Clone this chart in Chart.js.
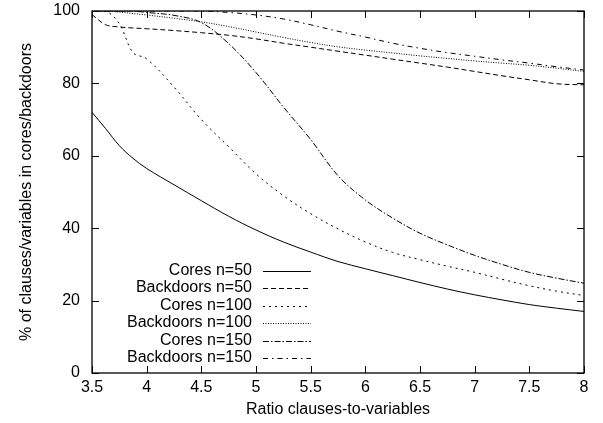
<!DOCTYPE html>
<html>
<head>
<meta charset="utf-8">
<script src="https://cdn.jsdelivr.net/npm/chart.js@4/dist/chart.umd.min.js"></script>
<style>
  html, body { margin: 0; padding: 0; background: #fff; }
  #wrap { width: 603px; height: 423px; }
</style>
</head>
<body>
<div id="wrap"><canvas id="chart" width="603" height="423"></canvas></div>
<script>
// x positions (ratio clauses-to-variables)
const ratios = [3.5, 3.625, 3.75, 3.875, 4, 4.25, 4.5, 4.75, 5, 5.25, 5.5, 5.75, 6, 6.25, 6.5, 6.75, 7, 7.25, 7.5, 7.75, 8];

const cores50 = [72, 67.5, 62.8, 59.3, 56.5, 52, 47.6, 43.3, 39.5, 36.2, 33.4, 30.8, 28.8, 26.9, 25, 23.2, 21.6, 20.2, 18.9, 17.9, 17];
const backdoors50 = [99, 96.2, 95.6, 95.3, 95.1, 94.6, 94, 93.3, 92.3, 91.1, 90, 88.9, 87.8, 86.7, 85.6, 84.5, 83.3, 82.1, 81, 79.9, 79.6];
const cores100 = [100, 100, 96.5, 88.5, 86.8, 79, 70, 62.5, 55, 49, 44, 39.8, 36.2, 33.3, 31.3, 29.5, 27.8, 25.9, 24.1, 22.6, 21.4];
const backdoors100 = [100, 100, 99.7, 99.3, 98.9, 98, 97, 95.7, 94.2, 92.7, 91.3, 90.1, 89.2, 88.4, 87.6, 86.9, 86.2, 85.6, 85, 84.2, 83.3];
const cores150 = [100, 100, 100, 100, 99.6, 98.8, 96.8, 91, 83, 73.5, 64.5, 54.5, 47.8, 42.8, 38.6, 35.4, 32.5, 30, 27.8, 26.2, 24.8];
const backdoors150 = [100, 100, 100, 100, 100, 100, 100, 99.6, 98.9, 97.8, 96.2, 94.4, 92.8, 91.1, 89.7, 88.5, 87.5, 86.5, 85.6, 84.6, 83.7];

const seriesNames = ["Cores n=50", "Backdoors n=50", "Cores n=100", "Backdoors n=100", "Cores n=150", "Backdoors n=150"];
const seriesValues = [cores50, backdoors50, cores100, backdoors100, cores150, backdoors150];
const dashes = [[], [5, 3], [2, 4], [1, 1.5], [6, 2, 1.5, 2], [5, 4, 1.5, 4]];

Chart.defaults.font.family = "'Liberation Sans', Arial, sans-serif";
Chart.defaults.font.size = 16;
Chart.defaults.color = "#000";

function toPoints(vals) {
  return vals.map((v, i) => ({ x: ratios[i], y: v }));
}

// gnuplot style frame with inward ticks on all four sides
const framePlugin = {
  id: "frame",
  afterDatasetsDraw(chart) {
    const c = chart.ctx, a = chart.chartArea;
    const xs = chart.scales.x, ys = chart.scales.y;
    c.save();
    c.strokeStyle = "#000";
    c.lineWidth = 1.3;
    c.setLineDash([]);
    c.strokeRect(a.left, a.top, a.right - a.left, a.bottom - a.top);
    c.lineWidth = 1;
    c.beginPath();
    xs.ticks.forEach((t) => {
      const px = Math.round(xs.getPixelForValue(t.value)) + 0.5;
      c.moveTo(px, a.bottom); c.lineTo(px, a.bottom - 7);
      c.moveTo(px, a.top); c.lineTo(px, a.top + 7);
    });
    ys.ticks.forEach((t) => {
      const py = Math.round(ys.getPixelForValue(t.value)) + 0.5;
      c.moveTo(a.left, py); c.lineTo(a.left + 7, py);
      c.moveTo(a.right, py); c.lineTo(a.right - 7, py);
    });
    c.stroke();
    c.restore();
  },
  afterDraw(chart) {
    // key: text right aligned, line sample on its right
    const c = chart.ctx, a = chart.chartArea;
    c.save();
    c.font = "16px 'Liberation Sans', Arial, sans-serif";
    c.fillStyle = "#000";
    c.textAlign = "right";
    c.textBaseline = "middle";
    chart.data.datasets.forEach((ds, i) => {
      const y = a.bottom - 102.5 + i * 17.5;
      c.fillText(ds.label, a.left + 160, y);
      c.strokeStyle = "#000";
      c.lineWidth = 1;
      c.setLineDash(ds.borderDash);
      c.beginPath();
      c.moveTo(a.left + 171, Math.round(y) + 0.5);
      c.lineTo(a.left + 219, Math.round(y) + 0.5);
      c.stroke();
    });
    c.restore();
  }
};

new Chart(document.getElementById("chart").getContext("2d"), {
  type: "line",
  data: {
    datasets: seriesNames.map((name, i) => ({
      label: name,
      data: toPoints(seriesValues[i]),
      borderColor: "#000",
      backgroundColor: "#000",
      borderWidth: 1,
      borderDash: dashes[i],
      pointRadius: 0,
      fill: false,
      tension: 0.35
    }))
  },
  options: {
    responsive: false,
    animation: false,
    layout: { padding: { top: 11, right: 19, left: 0, bottom: 0 } },
    plugins: {
      legend: { display: false },
      tooltip: { enabled: false }
    },
    scales: {
      x: {
        type: "linear",
        min: 3.5,
        max: 8,
        grid: { display: false, drawTicks: false },
        border: { display: false },
        ticks: { stepSize: 0.5, padding: 5, callback: (v) => String(v) },
        title: { display: true, text: "Ratio clauses-to-variables", padding: { top: 4, bottom: 4 } },
        afterFit(scale) { scale.height = 50; scale.paddingRight = 0; scale.paddingLeft = 0; }
      },
      y: {
        min: 0,
        max: 100,
        grid: { display: false, drawTicks: false },
        border: { display: false },
        ticks: { stepSize: 20, padding: 12 },
        title: { display: true, text: "% of clauses/variables in cores/backdoors", padding: { top: 17, bottom: 17 } },
        afterFit(scale) { scale.width = 92; scale.paddingTop = 0; scale.paddingBottom = 0; }
      }
    }
  },
  plugins: [framePlugin]
});
</script>
</body>
</html>
